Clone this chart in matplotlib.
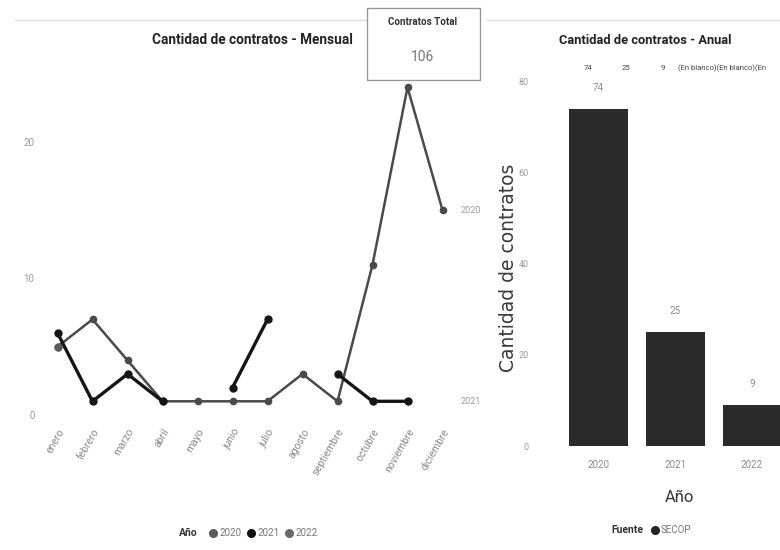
import matplotlib
matplotlib.use("Agg")
import matplotlib.pyplot as plt
from matplotlib.patches import Rectangle
from matplotlib.lines import Line2D
import numpy as np

# ---- data ----
meses = ["enero", "febrero", "marzo", "abril", "mayo", "junio", "julio",
         "agosto", "septiembre", "octubre", "noviembre", "diciembre"]
serie_2020 = [5, 7, 4, 1, 1, 1, 1, 3, 1, 11, 24, 15]
serie_2021 = [6, 1, 3, 1, None, 2, 7, None, 3, 1, 1, None]
serie_2022 = [5, None, None, None, None, None, None, None, None, None, None, None]
anios = ["2020", "2021", "2022"]
totales = [74, 25, 9]
total_contratos = 106
fila_superior = ["74", "25", "9", "(En blanco)(En blanco)(En"]

W, H = 780, 550
fig = plt.figure(figsize=(7.8, 5.5), dpi=100)
fig.patch.set_facecolor("white")

NARROW = ["Roboto", "DejaVu Sans"]


def fx(px):
    return px / W


def fy(py):
    return 1 - py / H


# ---- line chart ----
ax = fig.add_axes([fx(40), fy(420), fx(420), (420 - 60) / H])
x = np.arange(len(meses))


def arr(v):
    return np.array([np.nan if a is None else a for a in v], dtype=float)


ax.plot(x, arr(serie_2020), color="#4a4a4a", lw=1.8, marker="o", ms=4.5, zorder=3)
ax.plot(x, arr(serie_2021), color="#151515", lw=2.4, marker="o", ms=5, zorder=4)
ax.plot(x, arr(serie_2022), color="#5a5a5a", lw=1.8, marker="o", ms=5, zorder=5)

ax.set_xlim(-0.5, 11.5)
ax.set_ylim(-0.37, 26.0)
ax.set_yticks([0, 10, 20])
ax.set_yticklabels(["0", "10", "20"], color="#9a9a9a", fontsize=7, family=NARROW)
ax.tick_params(axis="y", length=0, pad=4)
ax.set_xticks(x)
ax.set_xticklabels(meses, rotation=60, ha="right", va="top", rotation_mode="anchor",
                   color="#8a8a8a", fontsize=7.5, family=NARROW)
ax.tick_params(axis="x", length=0, pad=5)
for s in ax.spines.values():
    s.set_visible(False)

# series end labels
ax.annotate("2020", xy=(11, 15), xytext=(13, 0), textcoords="offset points",
            va="center", ha="left", fontsize=6.5, color="#9a9a9a", family=NARROW,
            annotation_clip=False)
ax.annotate("2021", xy=(10, 1), xytext=(38, 0), textcoords="offset points",
            va="center", ha="left", fontsize=6.5, color="#9a9a9a", family=NARROW,
            annotation_clip=False)

fig.text(fx(252), fy(40), "Cantidad de contratos - Mensual", ha="center", va="center",
         fontsize=9.8, fontweight="bold", color="#222222", family=NARROW)

# ---- bar chart ----
bx = fig.add_axes([fx(555), fy(446), fx(231), (446 - 60) / H])
xb = np.arange(len(anios))
bars = bx.bar(xb, totales, width=0.766, color="#2b2b2b", zorder=2)
bx.set_xlim(-0.56, 2.44)
bx.set_ylim(0, 84.8)
bx.set_yticks([0, 20, 40, 60, 80])
bx.set_yticklabels(["0", "20", "40", "60", "80"], color="#9a9a9a", fontsize=6.5, family=NARROW)
bx.tick_params(axis="y", length=0, pad=19)
bx.set_xticks(xb)
bx.set_xticklabels(anios, color="#8a8a8a", fontsize=7, family=NARROW)
bx.tick_params(axis="x", length=0, pad=10)
for s in bx.spines.values():
    s.set_visible(False)
for xi, v in zip(xb, totales):
    bx.annotate(str(v), xy=(xi, v), xytext=(0, 15), textcoords="offset points",
                ha="center", va="center", fontsize=7, color="#8a8a8a", family=NARROW)

fig.text(fx(509), fy(268), "Cantidad de contratos", rotation=90, ha="center", va="center",
         fontsize=13.5, color="#3a3a3a")
fig.text(fx(680), fy(497), "Año", ha="center", va="center", fontsize=12, color="#333333",
         family=NARROW)
fig.text(fx(645), fy(40), "Cantidad de contratos - Anual", ha="center", va="center",
         fontsize=9.3, fontweight="bold", color="#222222", family=NARROW)

# odd top row of values
for px, t in zip([588, 626, 663, 678], fila_superior):
    fig.text(fx(px), fy(68), t, ha="center" if px < 670 else "left", va="center",
             fontsize=5.5, color="#444444", family=NARROW)

# ---- separators ----
fig.add_artist(Line2D([fx(15), fx(367)], [fy(20), fy(20)], color="#dddddd", lw=1))
fig.add_artist(Line2D([fx(487), fx(780)], [fy(20), fy(20)], color="#dddddd", lw=1))

# ---- card ----
card = Rectangle((fx(367), fy(80)), fx(113), (80 - 8) / H, transform=fig.transFigure,
                 facecolor="white", edgecolor="#999999", lw=1.0, zorder=10)
fig.add_artist(card)
fig.text(fx(423), fy(22), "Contratos Total", ha="center", va="center", fontsize=7,
         fontweight="bold", color="#333333", family=NARROW, zorder=11)
fig.text(fx(423), fy(57), str(total_contratos), ha="center", va="center", fontsize=10,
         color="#777777", family=NARROW, zorder=11)

# ---- legend (line chart) ----
fig.text(fx(188), fy(533), "Año", ha="center", va="center", fontsize=7.5,
         fontweight="bold", color="#333333", family=NARROW)
leg_cols = ["#5a5a5a", "#111111", "#6a6a6a"]
for px, c, t in zip([213, 251, 289], leg_cols, anios):
    fig.add_artist(Line2D([fx(px)], [fy(533)], marker="o", ms=5.5, color=c, lw=0))
    fig.text(fx(px + 6), fy(533), t, ha="left", va="center", fontsize=7,
             color="#777777", family=NARROW)

# ---- legend (bar chart) ----
fig.text(fx(627), fy(530), "Fuente", ha="center", va="center", fontsize=7.5,
         fontweight="bold", color="#333333", family=NARROW)
fig.add_artist(Line2D([fx(655)], [fy(530)], marker="o", ms=5.5, color="#222222", lw=0))
fig.text(fx(661), fy(530), "SECOP", ha="left", va="center", fontsize=7,
         color="#777777", family=NARROW)

fig.savefig("out.png", dpi=100)
